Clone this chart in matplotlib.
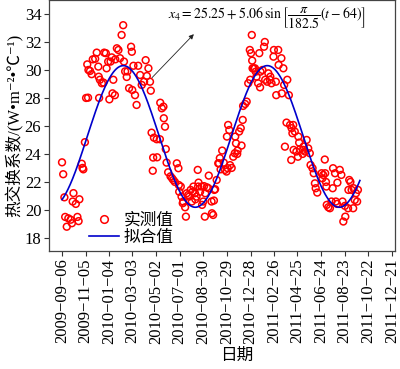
import numpy as np
import matplotlib
matplotlib.use("Agg")
import matplotlib.pyplot as plt
import matplotlib.dates as mdates
from matplotlib.lines import Line2D

plt.rcParams['font.family'] = ['Liberation Serif', 'Noto Sans CJK SC', 'DejaVu Serif']
plt.rcParams['mathtext.fontset'] = 'stix'

START = np.datetime64('2009-09-06')

# measured values: day offset from START and heat exchange coefficient
days = [
    0, 3, 6, 8, 12, 16, 22, 25, 27, 29,
    35, 39, 42, 44, 50, 54, 52, 58, 61, 66,
    64, 67, 71, 75, 78, 84, 88, 92, 94, 96,
    101, 105, 107, 111, 113, 117, 123, 120, 128, 134,
    130, 126, 139, 143, 135, 151, 155, 147, 157, 160,
    166, 164, 170, 178, 185, 189, 175, 177, 181, 193,
    198, 202, 208, 212, 219, 215, 223, 225, 93,
    227, 233, 240, 248, 231, 241, 230, 249, 253, 257,
    258, 261, 263, 265, 269, 275, 282, 286, 291, 295,
    279, 296, 301, 297, 303, 307, 306, 312, 314, 316,
    320, 322, 326, 331, 333, 329, 337, 341, 345, 350,
    344, 346, 338,
    354, 360, 367, 371, 372, 358, 355, 379, 385, 362,
    380, 383, 388, 392, 386, 363, 396, 398, 400, 406,
    410, 413, 417, 426, 430, 434, 438, 444, 421, 424,
    418, 439, 441, 445, 455, 453, 449, 458, 459, 464,
    468, 472, 476, 479, 482, 481, 486, 477, 402, 420,
    483, 500, 512, 514, 493, 497, 502, 515, 520, 527,
    531, 537, 548, 536, 556, 542, 543, 557, 563, 575,
    571, 569, 578, 586, 582, 590, 584, 599, 601, 565,
    587, 594, 603, 611, 610, 598, 581, 489, 491, 503,
    508, 523, 549, 561, 528,
    620, 612, 616, 624, 628, 630, 635, 638, 641, 643,
    647, 666, 658, 662, 667, 660, 670, 669, 687, 692,
    704, 708, 698, 686, 671, 675, 679, 683, 694, 697,
    711, 717, 725, 738, 718, 713, 728, 731, 726, 734,
    739, 745, 750, 742, 748,
]
values = [
    23.4, 22.55, 20.9, 19.5, 18.8, 19.4, 19.3, 19.05, 20.6, 21.2,
    20.43, 19.5, 19.2, 20.76, 23.3, 22.9, 23.0, 24.84, 28.0, 28.02,
    30.4, 30.0, 29.93, 29.7, 30.76, 30.8, 31.24, 30.24, 28.0, 29.3,
    29.05, 29.1, 31.24, 31.2, 30.12, 30.6, 30.6, 27.9, 28.33, 28.2,
    29.3, 30.9, 31.55, 31.43, 30.76, 32.5, 33.2, 30.84, 30.6, 29.9,
    29.9, 29.5, 28.7, 28.57, 28.2, 27.5, 31.66, 31.3, 30.3, 30.3,
    29.64, 28.93, 29.16, 30.7, 30.12, 29.57, 29.16, 28.52, 29.52,
    25.52, 25.16, 25.05, 25.05, 23.74, 23.76, 22.8, 27.66, 27.26, 27.38,
    26.55, 25.95, 24.35, 23.38, 22.69, 22.4, 22.14, 22.0, 23.33, 22.98,
    22.26, 21.78, 21.67, 21.3, 20.95, 20.6, 20.48, 20.19, 19.52, 21.19,
    21.07, 20.95, 21.43, 21.3, 21.67, 20.6, 21.19, 20.95, 21.67, 21.3,
    22.86, 21.95, 20.76,
    21.67, 21.7, 21.62, 21.55, 22.45, 20.6, 20.36, 20.6, 20.67, 19.52,
    19.76, 19.64, 21.48, 22.14, 21.43, 21.19, 23.33, 23.33, 23.7, 24.24,
    23.38, 22.86, 22.74, 23.2, 23.0, 23.8, 24.05, 24.0, 26.07, 25.71,
    25.24, 25.24, 24.76, 24.24, 24.6, 25.84, 25.6, 26.43, 27.43, 27.57,
    27.74, 29.05, 31.43, 31.2, 30.67, 32.5, 30.1, 29.3, 22.9, 22.98,
    30.12, 31.2, 31.66, 32.0, 29.52, 29.05, 28.76, 29.3, 29.16, 29.3,
    29.05, 31.43, 31.43, 30.95, 30.84, 29.16, 28.2, 28.33, 28.93, 28.2,
    29.3, 26.24, 26.07, 26.07, 25.84, 25.6, 25.48, 25.24, 24.81, 24.52,
    24.29, 24.17, 24.33, 24.29, 24.0, 23.8, 23.57, 30.12, 29.88, 29.88,
    30.0, 29.76, 30.36, 30.12, 29.52,
    25.0, 24.52, 24.17, 24.4, 24.05, 23.21, 22.98, 22.62, 21.9, 21.55,
    21.24, 23.6, 22.62, 22.5, 22.62, 22.26, 21.67, 22.0, 22.98, 22.62,
    22.86, 22.5, 21.95, 21.55, 20.36, 20.19, 20.12, 20.6, 20.6, 20.43,
    20.6, 20.29, 20.12, 20.12, 19.52, 19.17, 22.14, 22.0, 21.43, 21.43,
    21.55, 21.19, 21.43, 20.71, 20.6,
]

tick_labels = ['2009-09-06', '2009-11-05', '2010-01-04', '2010-03-03',
               '2010-05-02', '2010-07-01', '2010-08-30', '2010-10-29',
               '2010-12-28', '2011-02-26', '2011-04-25', '2011-06-24',
               '2011-08-23', '2011-10-22', '2011-12-21']

# fitted curve parameters
A0, A1, PERIOD_HALF, SHIFT = 25.25, 5.06, 182.5, 64
fit_end = 755


def to_dates(offsets):
    return START + np.array(offsets, dtype='timedelta64[D]')


fig = plt.figure(figsize=(4, 3.69), dpi=100)
ax = fig.add_axes([0.1225, 0.32, 0.865, 0.68])

t = np.arange(0, fit_end + 1)
fit = A0 + A1 * np.sin(np.pi / PERIOD_HALF * (t - SHIFT))

ax.scatter(to_dates(days), values, s=24, facecolors='none',
           edgecolors='#ff0000', linewidths=1.1, zorder=3)
ax.plot(to_dates(t), fit, color='#0000cc', lw=1.2, zorder=4)

tick_dates = np.array(tick_labels, dtype='datetime64[D]')
ax.set_xticks(mdates.date2num(tick_dates))
ax.set_xticklabels([s.replace('-', '\u2212') for s in tick_labels], rotation=90)
ax.set_xlim(mdates.date2num(START - np.timedelta64(33, 'D')),
            mdates.date2num(START + np.timedelta64(844, 'D')))
ax.set_ylim(17.07, 35)
ax.set_yticks([18, 20, 22, 24, 26, 28, 30, 32, 34])

ax.tick_params(axis='both', labelsize=12, direction='out', length=3.5,
               width=0.8, color='#333333', top=False, right=False, pad=2)
for sp in ax.spines.values():
    sp.set_color('#444444')
    sp.set_linewidth(0.9)

ax.set_xlabel('日期', fontsize=12, labelpad=2)
ax.xaxis.set_label_coords(0.543, -0.385)
ax.set_ylabel('热交换系数/(W\u2022m\u207b\u00b2\u2022\u2103\u207b\u00b9)', fontsize=12, labelpad=1)

handles = [Line2D([], [], ls='none', marker='o', mfc='none', mec='#ff0000', mew=1.1, ms=5.5),
           Line2D([], [], color='#0000cc', lw=1.2)]
ax.legend(handles, ['实测值', '拟合值'], loc='lower left', bbox_to_anchor=(0.11, 0.015),
          frameon=False, fontsize=12, handlelength=1.8, handletextpad=0.3,
          labelspacing=0.05, borderpad=0.1, borderaxespad=0.0)

ax.annotate('', xy=(mdates.date2num(START + np.timedelta64(339, 'D')), 32.7),
            xytext=(mdates.date2num(START + np.timedelta64(223, 'D')), 29.3),
            arrowprops=dict(arrowstyle='-|>', lw=0.6, color='#222222', mutation_scale=7))
ax.text(0.343, 0.925, r'$x_4=25.25+5.06\,\sin\left[\dfrac{\pi}{182.5}(t-64)\right]$',
        transform=ax.transAxes, fontsize=10, va='center', ha='left')

fig.savefig('out.png', dpi=100)
